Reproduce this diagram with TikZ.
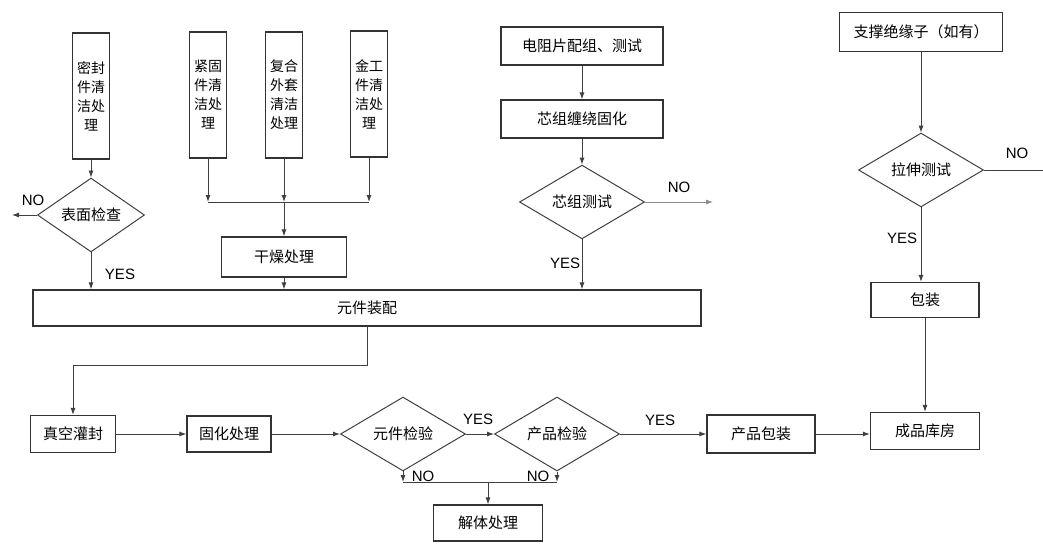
\documentclass[tikz,border=0pt]{standalone}
\usepackage{fontspec}
\setmainfont{Liberation Sans}
\newfontfamily\cjk{Noto Sans CJK SC}
\usetikzlibrary{shapes.geometric,arrows.meta}

\begin{document}
\begin{tikzpicture}[x=1pt, y=-1pt,
	box/.style={draw=black!80, line width=1.2pt, inner sep=0pt, font=\cjk\fontsize{15}{18}\selectfont},
	tallbox/.style={box, minimum width=37pt, minimum height=126pt, align=center, font=\cjk\fontsize{14}{19}\selectfont},
	check/.style={diamond, draw=black!75, line width=1pt, inner sep=0pt, minimum width=125pt, minimum height=70pt, font=\cjk\fontsize{15}{18}\selectfont},
	yn/.style={font=\fontsize{15}{17}\selectfont, text=black},
	link/.style={draw=black!75, line width=0.9pt},
	arr/.style={link, arrows={-Latex[length=7pt,width=5pt]}}]
	\useasboundingbox (0,0) rectangle (1043,543);

	\node[tallbox] (mf) at (91,96) {密封\\件清\\洁处\\理};
	\node[tallbox] (jg) at (208,95) {紧固\\件清\\洁处\\理};
	\node[tallbox] (fh) at (284,95) {复合\\外套\\清洁\\处理};
	\node[tallbox] (jgj) at (369,94) {金工\\件清\\洁处\\理};
	\node[check, minimum width=107pt, minimum height=56pt] (bm) at (91,215) {表面检查};
	\node[box, minimum width=125pt, minimum height=40pt] (gz) at (284,257) {干燥处理};
	\node[box, minimum width=668pt, minimum height=36pt] (zp) at (367,308) {元件装配};
	\node[box, minimum width=162pt, minimum height=38pt] (dz) at (582,46) {电阻片配组、测试};
	\node[box, minimum width=162pt, minimum height=38pt] (xz) at (582,119) {芯组缠绕固化};
	\node[check, minimum height=71pt] (xc) at (582,202) {芯组测试};
	\node[box, minimum width=163pt, minimum height=39pt] (zc) at (921,32) {支撑绝缘子（如有）};
	\node[check] (ls) at (921,170) {拉伸测试};
	\node[box, minimum width=108pt, minimum height=35pt] (bz) at (925,300) {包装};
	\node[box, minimum width=109pt, minimum height=37pt] (kf) at (925,431) {成品库房};
	\node[box, minimum width=85pt, minimum height=37pt] (zk) at (73,434) {真空灌封};
	\node[box, minimum width=84pt, minimum height=36pt] (gh) at (229,434) {固化处理};
	\node[check] (yj) at (403,434) {元件检验};
	\node[check, minimum height=72pt] (cj) at (557,434) {产品检验};
	\node[box, minimum width=108pt, minimum height=38pt] (cb) at (761,434) {产品包装};
	\node[box, minimum width=109pt, minimum height=36pt] (jt) at (488,523) {解体处理};

	\coordinate (bmno) at (12,215);
	\coordinate (join) at (284,202);
	\coordinate (xcno) at (713,202);
	\coordinate (lsno) at (1043,170);
	\coordinate (bend) at (73,365);
	\coordinate (fail) at (488,482);

	\draw[arr] (mf) -- (bm);
	\draw[arr] (bm) -- (bmno);
	\draw[arr] (bm) -- (bm |- zp.north);
	\draw[arr] (jg) -- (jg |- join);
	\draw[arr] (fh) -- (join);
	\draw[arr] (jgj) -- (jgj |- join);
	\draw[link] (jg |- join) -- (jgj |- join);
	\draw[arr] (join) -- (gz);
	\draw[arr] (gz) -- (gz |- zp.north);
	\draw[arr] (dz) -- (xz);
	\draw[arr] (xz) -- (xc);
	\draw[arr] (xc) -- (xc |- zp.north);
	\draw[arr, draw=black!45] (xc) -- (xcno);
	\draw[arr] (zp) |- (bend) -- (zk);
	\draw[arr] (zk) -- (gh);
	\draw[arr] (gh) -- (yj);
	\draw[arr] (yj) -- (cj);
	\draw[arr] (cj) -- (cb);
	\draw[arr] (cb) -- (cb -| kf.west);
	\draw[arr] (zc) -- (ls);
	\draw[link] (ls) -- (lsno);
	\draw[arr] (ls) -- (ls |- bz.north);
	\draw[arr] (bz) -- (kf);
	\draw[arr] (yj) -- (yj |- fail);
	\draw[arr] (cj) -- (cj |- fail);
	\draw[link] (yj |- fail) -- (cj |- fail);
	\draw[arr] (fail) -- (jt);

	\node[yn] (bmnol) at (33,200) {NO};
	\node[yn] (bmyesl) at (120,274) {YES};
	\node[yn] (xcyesl) at (565,263) {YES};
	\node[yn] (xcnol) at (679,187) {NO};
	\node[yn] (lsnol) at (1017,153) {NO};
	\node[yn] (lsyesl) at (902,238) {YES};
	\node[yn] (yjyesl) at (478,419) {YES};
	\node[yn] (cjyesl) at (660,420) {YES};
	\node[yn] (yjnol) at (423,476) {NO};
	\node[yn] (cjnol) at (538,476) {NO};
\end{tikzpicture}
\end{document}
